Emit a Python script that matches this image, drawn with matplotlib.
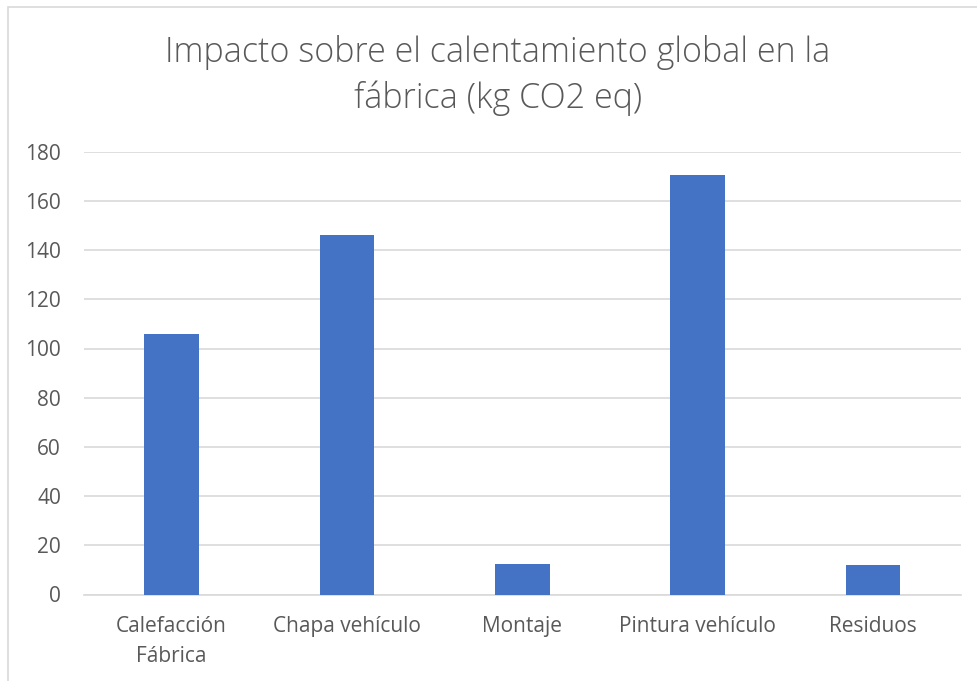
import matplotlib
matplotlib.use("Agg")
import matplotlib.pyplot as plt
from matplotlib.patches import Rectangle

categories = ["Calefacción\nFábrica", "Chapa vehículo", "Montaje", "Pintura vehículo", "Residuos"]
values = [105.8, 146.2, 12.5, 170.4, 12.1]
yticks = [0, 20, 40, 60, 80, 100, 120, 140, 160, 180]
title = "Impacto sobre el calentamiento global en la\nfábrica (kg CO2 eq)"

plt.rcParams["font.family"] = ["Open Sans", "DejaVu Sans"]
text_color = "#595959"
grid_color = "#d9d9d9"
bar_color = "#4472c4"

fig = plt.figure(figsize=(9.78, 6.81), dpi=100)
fig.patch.set_facecolor("white")

# chart-area frame
fig.patches.append(Rectangle((8 / 978, -0.05), 1.2, 1 - 7 / 681 + 0.05,
                             transform=fig.transFigure, fill=False,
                             edgecolor="#d9d9d9", linewidth=1.2))

ax = fig.add_axes([84 / 978, 1 - 594.5 / 681, (960.7 - 84) / 978, (594.5 - 151.7) / 681])
x = range(len(categories))
ax.bar(x, values, width=0.312, color=bar_color, zorder=3)

ax.set_xlim(-0.5, len(categories) - 0.5)
ax.set_ylim(0, 180)
ax.set_yticks(yticks)
ax.set_xticks(list(x))
ax.set_xticklabels(categories, fontsize=15, color=text_color, linespacing=1.58)
ax.tick_params(axis="y", labelsize=15, colors=text_color, length=0, pad=16.5)
ax.tick_params(axis="x", length=0, pad=15.5)
ax.grid(axis="y", color=grid_color, linewidth=1.2, zorder=0)
for s in ["top", "right", "left"]:
    ax.spines[s].set_visible(False)
ax.spines["bottom"].set_color(grid_color)
ax.spines["bottom"].set_linewidth(1.2)
ax.set_facecolor("none")

fig.text(498 / 978, 1 - 75.5 / 681, title, ha="center", va="center",
         fontsize=24.5, color=text_color, linespacing=1.38, fontweight="light")

fig.savefig("out.png", dpi=100, facecolor="white")
